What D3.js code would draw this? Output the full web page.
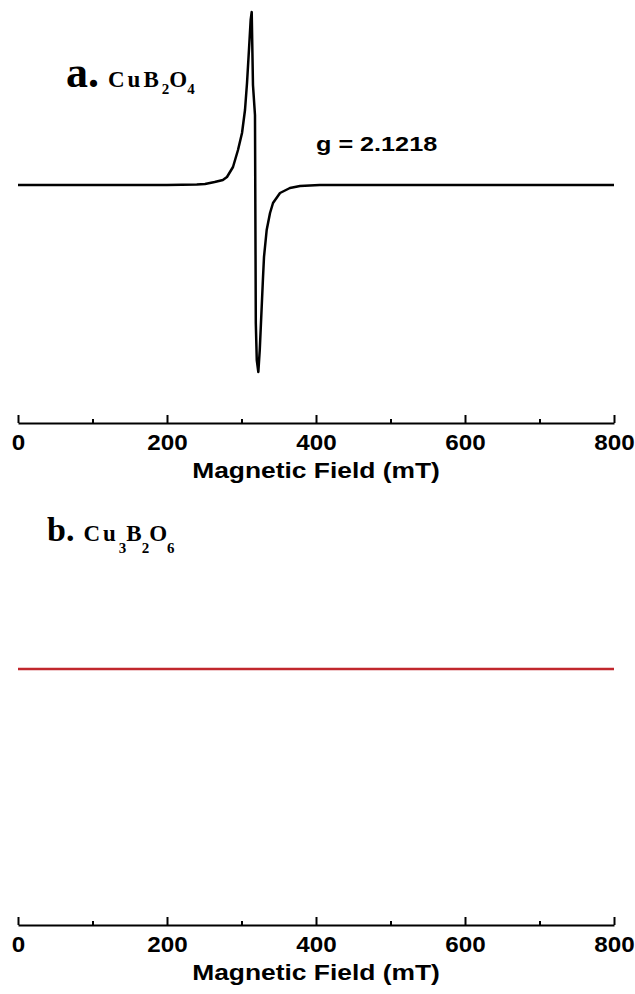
<!DOCTYPE html>
<html>
<head>
<meta charset="utf-8">
<script src="https://cdn.jsdelivr.net/npm/d3@7.9.0/dist/d3.min.js"></script>
<style>
  html, body { margin: 0; padding: 0; background: #fff; }
  svg { display: block; }
  .axis-label, .tick text { font-family: "Liberation Sans", Arial, sans-serif; font-weight: bold; fill: #000; }
  .formula { font-family: "Liberation Serif", "Times New Roman", serif; font-weight: bold; fill: #000; }
</style>
</head>
<body>
<svg id="chart" width="635" height="994"></svg>
<script>
// ----- Data -----
// panel a: CuB2O4 EPR derivative spectrum (field in mT, intensity in arb. units)
const fieldA = [0, 100, 200, 240, 251, 264, 275, 280.5, 288.6, 295.3, 300.7, 304.7, 307.4, 310, 312.3, 313.7,
                315.4, 318.1, 319.2, 320.5, 322.6, 324.5, 327.1, 328.9, 330.2, 333.8, 338.3, 342.3,
                351.7, 365, 378.5, 405, 500, 600, 700, 800];
const intensityA = [0, 0, 0, 0.5, 1, 3, 5, 8, 18, 35, 52, 75, 102, 135, 165, 173,
                    100, 70, -138, -175, -187, -165, -122, -92, -72, -45, -28, -18,
                    -8, -3, -1, 0, 0, 0, 0, 0];
// panel b: Cu3B2O6 (flat, EPR silent)
const fieldB = [0, 200, 400, 600, 800];
const intensityB = [0, 0, 0, 0, 0];

const majorTicks = [0, 200, 400, 600, 800];
const minorTicks = [100, 300, 500, 700];
const xTitle = "Magnetic Field (mT)";
const gLabel = "g = 2.1218";

const svg = d3.select("#chart");
const x = d3.scaleLinear().domain([0, 800]).range([18, 614]);
const yA = d3.scaleLinear().domain([-200, 185]).range([385, 0]);
const yB = d3.scaleLinear().domain([-100, 100]).range([769, 569]);

// ----- axis helper -----
function drawAxis(yPos) {
  const g = svg.append("g").attr("transform", `translate(0,${yPos})`);
  g.call(d3.axisBottom(x).tickValues(majorTicks).tickSizeInner(-8).tickSizeOuter(0)
    .tickPadding(11).tickFormat(d3.format("d")));
  g.select(".domain").attr("stroke", "#000").attr("stroke-width", 2);
  g.selectAll(".tick line").attr("stroke", "#000").attr("stroke-width", 2);
  g.selectAll(".tick text").attr("font-size", 22).attr("transform", "scale(1.1,1)");

  const gm = svg.append("g").attr("transform", `translate(0,${yPos})`);
  gm.call(d3.axisBottom(x).tickValues(minorTicks).tickSizeInner(-4).tickSizeOuter(0).tickFormat(""));
  gm.select(".domain").remove();
  gm.selectAll(".tick line").attr("stroke", "#000").attr("stroke-width", 2);

  svg.append("text").attr("class", "axis-label")
    .attr("transform", `translate(${x(400)},${yPos + 55}) scale(1.2,1)`)
    .attr("text-anchor", "middle").attr("font-size", 22)
    .text(xTitle);
}

// ----- panel a -----
const lineA = d3.line().x((d, i) => x(fieldA[i])).y(d => yA(d));
svg.append("path").datum(intensityA)
  .attr("d", lineA).attr("fill", "none").attr("stroke", "#000")
  .attr("stroke-width", 2.5).attr("stroke-linejoin", "round");

drawAxis(423);

const labA = svg.append("text").attr("class", "formula").attr("x", 66).attr("y", 87);
labA.append("tspan").attr("font-size", 44).text("a.");
labA.append("tspan").attr("font-size", 23).attr("dx", 9).attr("letter-spacing", 3).text("CuB");
labA.append("tspan").attr("font-size", 15).attr("dy", 7).text("2");
labA.append("tspan").attr("font-size", 23).attr("dy", -7).text("O");
labA.append("tspan").attr("font-size", 15).attr("dy", 7).text("4");

svg.append("text").attr("class", "axis-label")
  .attr("transform", "translate(316,151) scale(1.2,1)")
  .attr("font-size", 21).text(gLabel);

// ----- panel b -----
const lineB = d3.line().x((d, i) => x(fieldB[i])).y(d => yB(d));
svg.append("path").datum(intensityB)
  .attr("d", lineB).attr("fill", "none").attr("stroke", "#c1272d")
  .attr("stroke-width", 2.5);

drawAxis(925);

const labB = svg.append("text").attr("class", "formula").attr("x", 47).attr("y", 541);
labB.append("tspan").attr("font-size", 34).text("b.");
labB.append("tspan").attr("font-size", 23).attr("dx", 9).attr("letter-spacing", 3).text("Cu");
labB.append("tspan").attr("font-size", 15).attr("dy", 12).text("3");
labB.append("tspan").attr("font-size", 23).attr("dy", -12).text("B");
labB.append("tspan").attr("font-size", 15).attr("dy", 12).text("2");
labB.append("tspan").attr("font-size", 23).attr("dy", -12).text("O");
labB.append("tspan").attr("font-size", 15).attr("dy", 12).text("6");
</script>
</body>
</html>
